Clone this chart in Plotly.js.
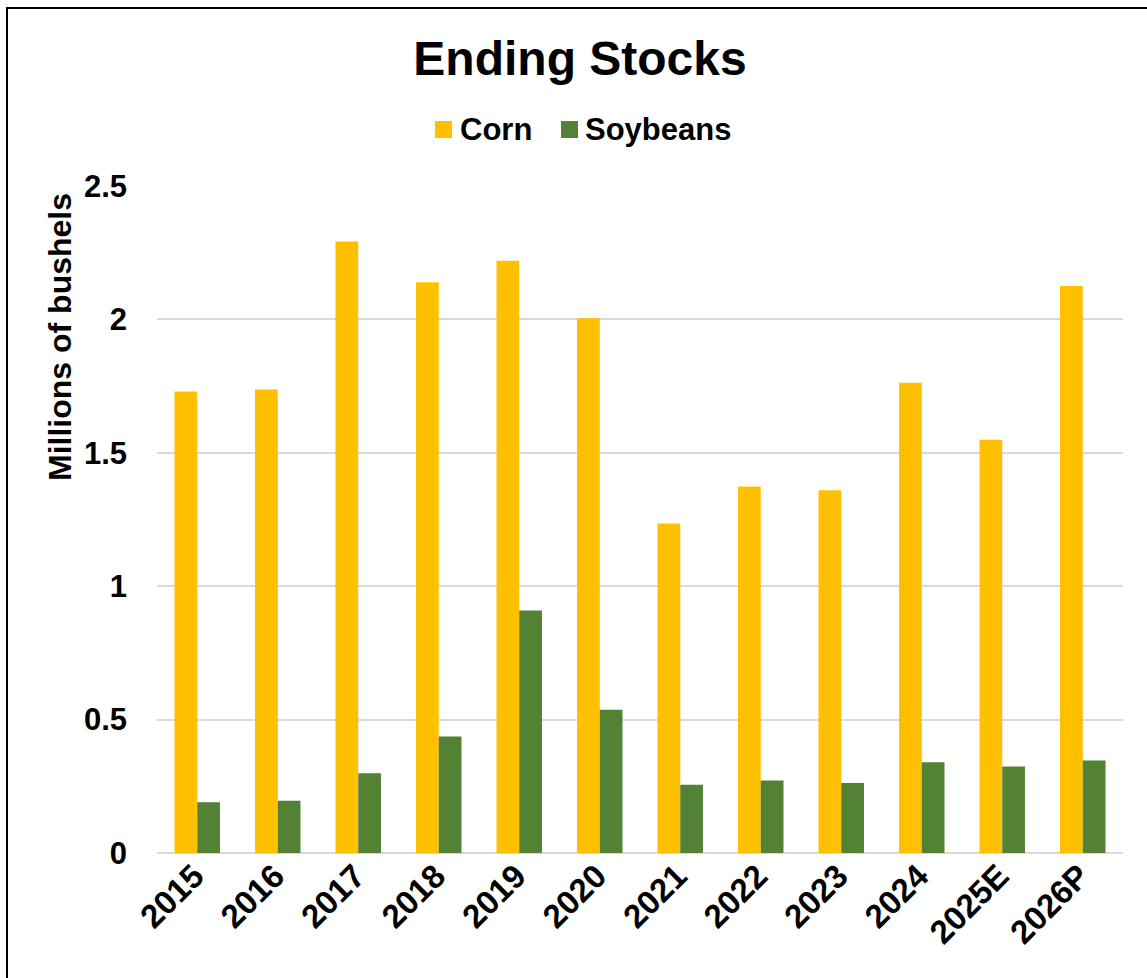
<!DOCTYPE html>
<html>
<head>
<meta charset="utf-8">
<script src="https://cdn.plot.ly/plotly-3.0.1.min.js"></script>
<style>
html, body { margin:0; padding:0; overflow:hidden; background:#fff; }
#chart { width:1147px; height:978px; position:absolute; left:0; top:0; }
#frame { position:absolute; left:6px; top:7px; width:1200px; height:1100px; border:2px solid #000; pointer-events:none; }
</style>
</head>
<body>
<div id="chart"></div>
<div id="frame"></div>
<script>
const years = ["2015","2016","2017","2018","2019","2020","2021","2022","2023","2024","2025E","2026P"];
const corn = [1.730, 1.737, 2.292, 2.139, 2.220, 2.004, 1.235, 1.374, 1.360, 1.763, 1.549, 2.125];
const soybeans = [0.190, 0.196, 0.299, 0.437, 0.909, 0.537, 0.256, 0.272, 0.262, 0.340, 0.324, 0.347];
const yTicks = [0, 0.5, 1, 1.5, 2, 2.5];
const seriesNames = ["Corn", "Soybeans"];

const FONT = "Liberation Sans, Arial, Helvetica, sans-serif";
const COLORS = ["#FFC000", "#548235"];

// pixel helpers for layout-only placement (plot area 157..1123 x, 186..853 y)
const PX = x => (x - 157) / 966;
const PY = y => (853 - y) / 667;

const traces = [
  { type:"bar", name:seriesNames[0], x:years, y:corn, marker:{color:COLORS[0]}, showlegend:false, hoverinfo:"x+y" },
  { type:"bar", name:seriesNames[1], x:years, y:soybeans, marker:{color:COLORS[1]}, showlegend:false, hoverinfo:"x+y" }
];

// manual legend (swatch + label) to match reference spacing
const legendSwatchX = [435, 561];
const legendTextX = [459, 584];
const legendY = 129.5;
const shapes = seriesNames.map((n, i) => ({
  type:"rect", xref:"paper", yref:"paper", layer:"above",
  x0:PX(legendSwatchX[i]), x1:PX(legendSwatchX[i] + 17), y0:PY(legendY + 8.5), y1:PY(legendY - 8.5),
  fillcolor:COLORS[i], line:{width:0}
}));
const legendAnn = seriesNames.map((n, i) => ({
  text:n, xref:"paper", yref:"paper", x:PX(legendTextX[i]), y:PY(legendY), xanchor:"left", yanchor:"middle",
  showarrow:false, borderpad:0, font:{family:FONT, size:31, weight:700, color:"#000"}
}));

const layout = {
  width:1147, height:978,
  margin:{l:157, r:24, t:186, b:125},
  paper_bgcolor:"#fff", plot_bgcolor:"#fff",
  font:{family:FONT, color:"#000", size:30, weight:700},
  title:{text:"Ending Stocks", font:{family:FONT, size:48, weight:700, color:"#000"},
         xref:"container", yref:"container", x:580/1147, xanchor:"center", y:1-58/978, yanchor:"middle"},
  barmode:"group", bargap:0.435, bargroupgap:0,
  showlegend:false,
  xaxis:{type:"category", categoryorder:"array", categoryarray:years, tickangle:-45, showgrid:false, showline:false, zeroline:false,
         ticks:"", ticklabelstandoff:-4, ticklabelshift:-3, tickfont:{family:FONT, size:33, weight:700, color:"#000"}, automargin:false},
  yaxis:{range:[0,2.5], tickvals:yTicks, ticktext:yTicks.map(String), showgrid:true, gridcolor:"#d9d9d9", gridwidth:1.5,
         zeroline:true, zerolinecolor:"#d9d9d9", zerolinewidth:1.5, showline:false, ticks:"", ticklabelstandoff:29,
         tickfont:{family:FONT, size:31, weight:700, color:"#000"}, automargin:false},
  shapes: shapes,
  annotations:[{text:"Millions of bushels", textangle:-90, xref:"paper", yref:"paper",
                x:PX(60), y:PY(337), xanchor:"center", yanchor:"middle", showarrow:false,
                font:{family:FONT, size:32, weight:700, color:"#000"}}].concat(legendAnn)
};

Plotly.newPlot("chart", traces, layout, {displayModeBar:false});
</script>
</body>
</html>
